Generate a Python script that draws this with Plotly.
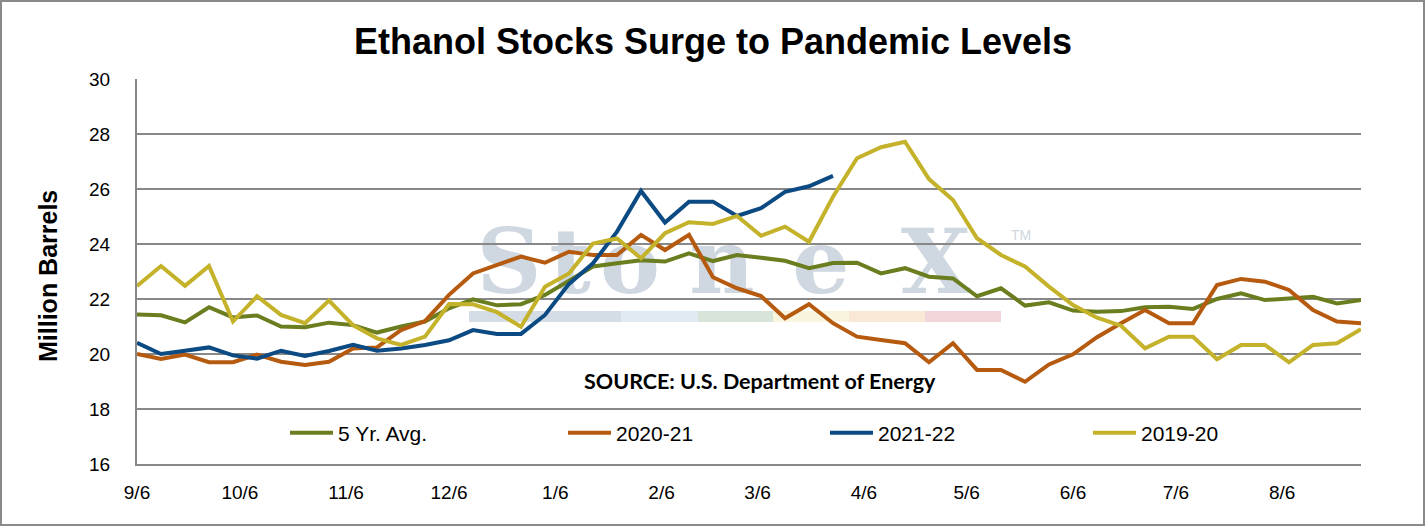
import plotly.graph_objects as go

# ---------------- data ----------------
week_dates = [
    "2021-09-06", "2021-09-13", "2021-09-20", "2021-09-27", "2021-10-04", "2021-10-11",
    "2021-10-18", "2021-10-25", "2021-11-01", "2021-11-08", "2021-11-15", "2021-11-22",
    "2021-11-29", "2021-12-06", "2021-12-13", "2021-12-20", "2021-12-27", "2022-01-03",
    "2022-01-10", "2022-01-17", "2022-01-24", "2022-01-31", "2022-02-07", "2022-02-14",
    "2022-02-21", "2022-02-28", "2022-03-07", "2022-03-14", "2022-03-21", "2022-03-28",
    "2022-04-04", "2022-04-11", "2022-04-18", "2022-04-25", "2022-05-02", "2022-05-09",
    "2022-05-16", "2022-05-23", "2022-05-30", "2022-06-06", "2022-06-13", "2022-06-20",
    "2022-06-27", "2022-07-04", "2022-07-11", "2022-07-18", "2022-07-25", "2022-08-01",
    "2022-08-08", "2022-08-15", "2022-08-22", "2022-08-29",
]

avg_5yr = [
    21.44, 21.41, 21.15, 21.70, 21.33, 21.40, 21.00, 20.97, 21.14, 21.05, 20.78, 21.00,
    21.18, 21.66, 21.99, 21.77, 21.81, 22.15, 22.66, 23.18, 23.30, 23.41, 23.36, 23.66,
    23.38, 23.60, 23.50, 23.39, 23.12, 23.31, 23.32, 22.93, 23.12, 22.81, 22.75, 22.10,
    22.39, 21.76, 21.88, 21.58, 21.54, 21.56, 21.70, 21.72, 21.64, 22.00, 22.21, 21.96,
    22.02, 22.08, 21.84, 21.96,
]

y2020_21 = [
    20.00, 19.82, 19.98, 19.70, 19.70, 19.98, 19.72, 19.60, 19.72, 20.20, 20.24, 20.87,
    21.20, 22.15, 22.93, 23.24, 23.54, 23.32, 23.72, 23.60, 23.60, 24.33, 23.78, 24.33,
    22.79, 22.39, 22.11, 21.30, 21.81, 21.12, 20.63, 20.51, 20.39, 19.70, 20.39, 19.42,
    19.42, 18.99, 19.62, 19.99, 20.61, 21.12, 21.60, 21.12, 21.12, 22.51, 22.73, 22.63,
    22.33, 21.60, 21.18, 21.12,
]

y2021_22 = [
    20.41, 20.00, 20.12, 20.24, 19.95, 19.83, 20.12, 19.93, 20.11, 20.33, 20.12, 20.20,
    20.33, 20.50, 20.87, 20.73, 20.73, 21.42, 22.55, 23.30, 24.45, 25.93, 24.78, 25.54,
    25.54, 25.02, 25.30, 25.90, 26.10, 26.48,
]

y2019_20 = [
    22.47, 23.20, 22.48, 23.20, 21.18, 22.10, 21.42, 21.12, 21.94, 21.05, 20.57, 20.33,
    20.63, 21.82, 21.81, 21.52, 20.99, 22.45, 22.93, 24.02, 24.20, 23.48, 24.39, 24.79,
    24.73, 25.02, 24.30, 24.63, 24.08, 25.72, 27.12, 27.52, 27.72, 26.36, 25.60, 24.21,
    23.60, 23.18, 22.45, 21.78, 21.32, 21.03, 20.21, 20.63, 20.63, 19.81, 20.33, 20.33,
    19.70, 20.33, 20.39, 20.90,
]

series_names = ["5 Yr. Avg.", "2020-21", "2021-22", "2019-20"]

tick_dates = [
    "2021-09-06", "2021-10-06", "2021-11-06", "2021-12-06", "2022-01-06", "2022-02-06",
    "2022-03-06", "2022-04-06", "2022-05-06", "2022-06-06", "2022-07-06", "2022-08-06",
]
tick_labels = ["9/6", "10/6", "11/6", "12/6", "1/6", "2/6", "3/6", "4/6", "5/6", "6/6", "7/6", "8/6"]

y_ticks = [16, 18, 20, 22, 24, 26, 28, 30]

# ---------------- layout helpers ----------------
W, H = 1426, 527
PL, PR, PT, PB = 137, 1361, 79, 464  # plot box in pixels


def dx(px):
    return (px - PL) / (PR - PL)


def dy(py):
    return (PB - py) / (PB - PT)


colors = ["#6B7E1F", "#B65A10", "#0B4A82", "#C4B22A"]
values = [avg_5yr, y2020_21, y2021_22, y2019_20]
legend_ids = ["legend", "legend2", "legend3", "legend4"]
legend_px = [290, 568, 830, 1093]

fig = go.Figure()
for name, vals, col, lid in zip(series_names, values, colors, legend_ids):
    fig.add_trace(go.Scatter(
        x=week_dates[:len(vals)], y=vals, name=name, mode="lines",
        line=dict(color=col, width=4), legend=lid,
    ))

FONT = "Liberation Sans, Arial, sans-serif"

legend_common = dict(
    orientation="h", xanchor="left", yanchor="middle", y=dy(433),
    font=dict(family=FONT, size=21, color="#000000"),
    bgcolor="rgba(0,0,0,0)", borderwidth=0, itemwidth=43,
)

shapes = []
# watermark bars
bar_segments = [
    (469, 621, "#d4dce5"), (621, 698, "#dfeaf3"), (698, 773, "#d6e4da"),
    (773, 849, "#f8f4de"), (849, 925, "#f9e8d6"), (925, 1001, "#f3d6d9"),
]
for x0, x1, c in bar_segments:
    shapes.append(dict(type="rect", xref="x domain", yref="y domain",
                       x0=dx(x0), x1=dx(x1), y0=dy(322), y1=dy(311),
                       fillcolor=c, line=dict(width=0), layer="below"))

# watermark letters
wm_letters = [("S", 509), ("t", 570), ("o", 630), ("n", 722), ("e", 821), ("X", 936)]
for ch, cx in wm_letters:
    shapes.append(dict(type="rect", xref="x domain", yref="y domain",
                       x0=dx(cx - 1), x1=dx(cx + 1), y0=dy(257), y1=dy(255),
                       line=dict(width=0), fillcolor="rgba(0,0,0,0)", layer="below",
                       label=dict(text=ch, textposition="middle center",
                                  font=dict(family="DejaVu Serif, Liberation Serif, serif",
                                            size=90, weight="bold", color="#cfd7e0"))))
shapes.append(dict(type="rect", xref="x domain", yref="y domain",
                   x0=dx(1020), x1=dx(1022), y0=dy(235), y1=dy(233),
                   line=dict(width=0), fillcolor="rgba(0,0,0,0)", layer="below",
                   label=dict(text="TM", textposition="middle center",
                              font=dict(family=FONT, size=14, color="#cfd7e0"))))

# outer border
shapes.append(dict(type="rect", xref="paper", yref="paper",
                   x0=dx(1), x1=dx(1424), y0=dy(525), y1=dy(1),
                   line=dict(color="#8a8a8a", width=2), fillcolor="rgba(0,0,0,0)", layer="above"))

annotations = [
    dict(text="SOURCE: U.S. Department of Energy", xref="paper", yref="paper",
         x=dx(760), y=dy(381), xanchor="center", yanchor="middle", showarrow=False,
         font=dict(family="Lato, Open Sans, sans-serif", size=21.5, color="#000000", weight="bold")),
    dict(text="<b>Million Barrels</b>", xref="paper", yref="paper",
         x=dx(48), y=dy(276), xanchor="center", yanchor="middle", showarrow=False,
         textangle=-90, font=dict(family=FONT, size=25, color="#000000")),
]

layout = dict(
    width=W, height=H, autosize=False,
    margin=dict(l=PL, r=W - PR, t=PT, b=H - PB, pad=0),
    paper_bgcolor="#ffffff", plot_bgcolor="rgba(0,0,0,0)",
    title=dict(text="<b>Ethanol Stocks Surge to Pandemic Levels</b>", x=0.5, xanchor="center",
               xref="container", yref="container", y=1 - 41 / H, yanchor="middle",
               font=dict(family=FONT, size=36, color="#000000")),
    xaxis=dict(type="date", range=[week_dates[0], week_dates[-1]],
               tickmode="array", tickvals=tick_dates, ticktext=tick_labels,
               showgrid=False, zeroline=False, ticks="", ticklabelstandoff=10,
               showline=True, linecolor="#888888", linewidth=2,
               tickfont=dict(family=FONT, size=19, color="#000000")),
    yaxis=dict(range=[16, 30], tickmode="array", tickvals=y_ticks,
               showgrid=True, gridcolor="#888888", gridwidth=2, zeroline=False,
               showline=True, linecolor="#888888", linewidth=2, ticks="",
               ticklabelstandoff=21,
               tickfont=dict(family=FONT, size=19, color="#000000")),
    shapes=shapes,
    annotations=annotations,
    showlegend=True,
)
for lid, lpx in zip(legend_ids, legend_px):
    layout[lid] = dict(legend_common, x=dx(lpx - 5))

fig.update_layout(**layout)
fig.write_html("out.html", config={"displayModeBar": False},
               post_script="document.body.style.margin='0px';document.body.style.padding='0px';")
